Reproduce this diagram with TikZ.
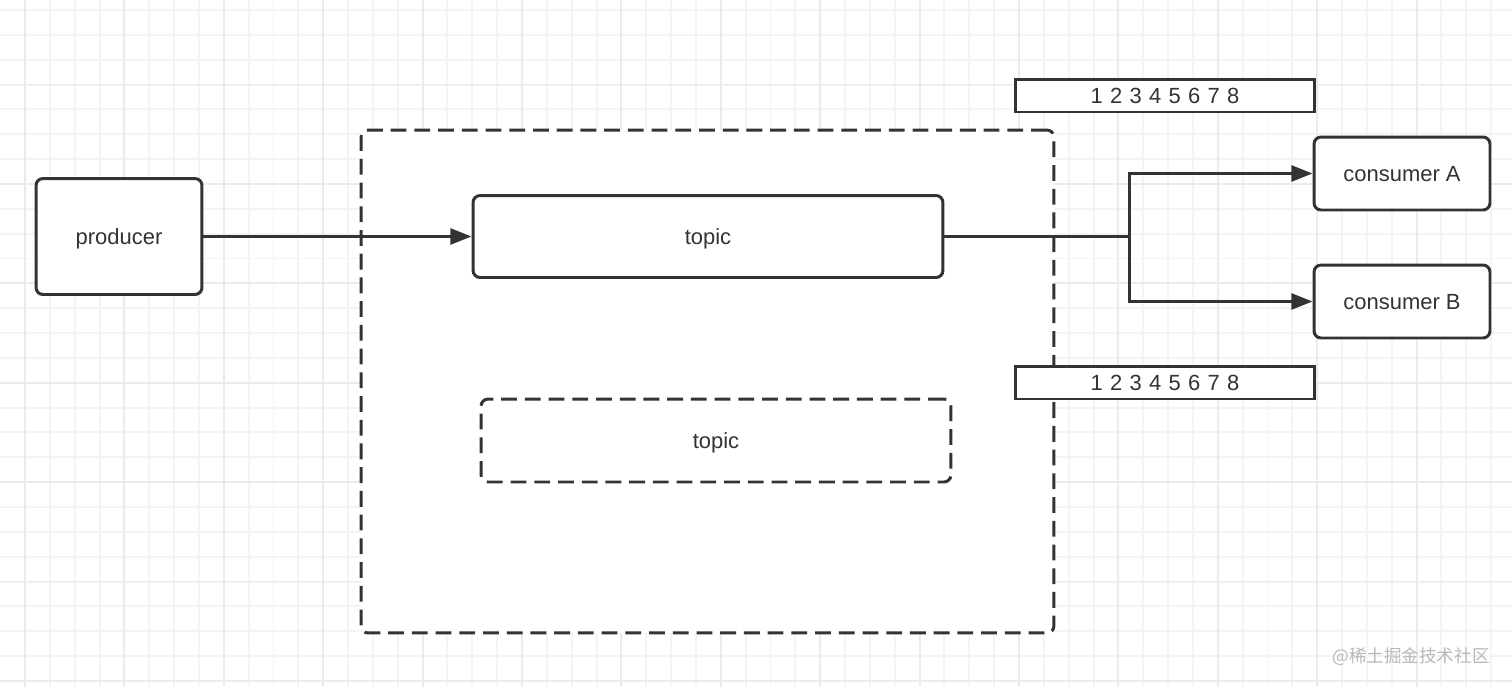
\documentclass[tikz,border=0pt]{standalone}
\usepackage{fontspec}
\setmainfont{Liberation Sans}
\newfontfamily\cjk{Noto Sans CJK SC}
\usetikzlibrary{arrows.meta}
\definecolor{ink}{HTML}{333333}
\definecolor{gridminor}{HTML}{F4F4F4}
\definecolor{gridmajor}{HTML}{EBEBEB}

\begin{document}
\begin{tikzpicture}
  [x=0.02cm, y=-0.02cm,
   box/.style={draw=ink, line width=1.7pt, rounded corners=4pt, text=ink,
               font=\fontsize{12.5}{14}\selectfont, inner sep=0pt,
               text height=9pt, text depth=0pt},
   dashbox/.style={box, dash pattern=on 9pt off 4.5pt},
   numbox/.style={box, rounded corners=0pt, minimum width=6cm, minimum height=0.66cm},
   link/.style={draw=ink, line width=1.7pt, -{Triangle[length=12pt, width=9pt]}}]
  \useasboundingbox (0,0) rectangle (1512,687);
  \fill[white] (0,0) rectangle (1512,687);
  \foreach \k in {0,...,60}
    \draw[gridminor, line width=1.1pt] ({25+24.85*\k},0) -- ({25+24.85*\k},687);
  \foreach \k in {0,...,27}
    \draw[gridminor, line width=1.1pt] (0,{10+24.85*\k}) -- (1512,{10+24.85*\k});
  \foreach \k in {0,...,15}
    \draw[gridmajor, line width=1.1pt] ({25+99.4*\k},0) -- ({25+99.4*\k},687);
  \foreach \k in {0,...,6}
    \draw[gridmajor, line width=1.1pt] (0,{84.5+99.4*\k}) -- (1512,{84.5+99.4*\k});

  \node[dashbox, fill=white, minimum width=13.86cm, minimum height=10.06cm] (broker) at (707.5,381.5) {};
  \node[box, fill=white, minimum width=3.32cm, minimum height=2.32cm] (producer) at (119,236.5) {producer};
  \node[box, fill=white, minimum width=9.4cm, minimum height=1.64cm] (topic) at (708,236.5) {topic};
  \node[dashbox, fill=white, minimum width=9.4cm, minimum height=1.66cm] (topicB) at (716,440.5) {topic};
  \node[numbox, fill=white] (numsA) at (1165,95.5) {1\,\,2\,\,3\,\,4\,\,5\,\,6\,\,7\,\,8};
  \node[numbox, fill=white] (numsB) at (1165,382.5) {1\,\,2\,\,3\,\,4\,\,5\,\,6\,\,7\,\,8};
  \node[box, fill=white, minimum width=3.52cm, minimum height=1.46cm] (consA) at (1402,173.5) {consumer A};
  \node[box, fill=white, minimum width=3.52cm, minimum height=1.46cm] (consB) at (1402,301.5) {consumer B};
  \coordinate (split) at (1129,236.5);

  \draw[link] (producer) -- (topic);
  \draw[draw=ink, line width=1.7pt] (topic) -- (split);
  \draw[link] (split) |- (consA);
  \draw[link] (split) |- (consB);

  \node[text=black!28, font=\cjk\fontsize{10}{12}\selectfont] (mark) at (1411,657) {@稀土掘金技术社区};
\end{tikzpicture}
\end{document}
